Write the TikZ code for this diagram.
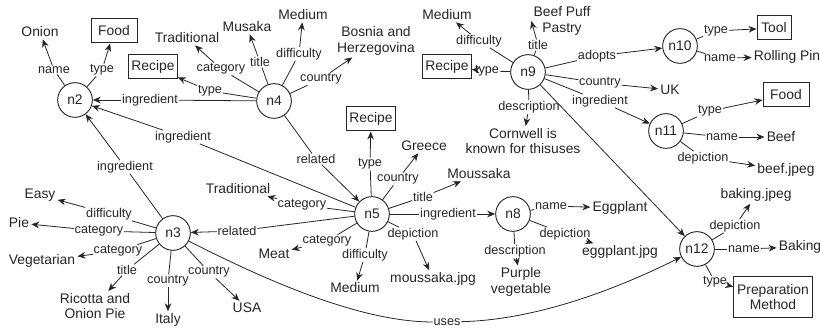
\documentclass[tikz,border=0pt]{standalone}
\usepackage{fontspec}
\setmainfont{Liberation Sans}
\usetikzlibrary{arrows.meta}
\definecolor{ink}{HTML}{262626}

\begin{document}
\begin{tikzpicture}[x=0.75pt,y=-0.75pt,ink,
  res/.style={circle,draw=ink,line width=0.7pt,minimum size=26pt,inner sep=0pt,font=\fontsize{10.4}{12}\selectfont},
  lit/.style={inner sep=1.5pt,align=center,font=\fontsize{10.4}{11.5}\selectfont},
  cls/.style={lit,draw=ink,line width=0.75pt,minimum height=18pt,inner xsep=2pt},
  lbl/.style={inner sep=0.5pt,font=\fontsize{9.5}{11}\selectfont},
  rel/.style={draw=ink,line width=0.6pt},
  arr/.style={rel,-{Stealth[length=6pt,width=5pt]}}]
\useasboundingbox (0,0) rectangle (820,331);

% resources
\node[res] (n2) at (75,100) {n2};
\node[res] (n3) at (173,233) {n3};
\node[res] (n4) at (274,101) {n4};
\node[res] (n5) at (372,214) {n5};
\node[res] (n8) at (513,214) {n8};
\node[res] (n9) at (528,72) {n9};
\node[res] (n10) at (680,46) {n10};
\node[res] (n11) at (666,131) {n11};
\node[res] (n12) at (697,249) {n12};

% literals and classes
\node[lit] (onion) at (40,32) {Onion};
\node[cls,minimum width=34.5pt] (food1) at (114,31) {Food};
\node[cls] (recipe1) at (153,67) {Recipe};
\node[lit] (trad1) at (187,38) {Traditional};
\node[lit] (musaka) at (247,27) {Musaka};
\node[lit] (medium1) at (303,15) {Medium};
\node[lit] (bosnia) at (376,41) {Bosnia and\\Herzegovina};
\node[lit] (medium2) at (447,15) {Medium};
\node[cls] (recipe2) at (447,67) {Recipe};
\node[lit] (beefpuff) at (562,21) {Beef Puff\\Pastry};
\node[lit] (cornwell) at (523,141) {Cornwell is\\known for thisuses};
\node[cls,minimum width=25.5pt] (tool) at (774,28) {Tool};
\node[lit] (rolling) at (787,57) {Rolling Pin};
\node[lit] (uk) at (670,90) {UK};
\node[cls,minimum width=34.5pt] (food2) at (786,95) {Food};
\node[lit] (beef) at (781,137) {Beef};
\node[lit] (beefjpeg) at (786,170) {beef.jpeg};
\node[cls] (recipe3) at (371,119) {Recipe};
\node[lit] (greece) at (424,146) {Greece};
\node[lit] (moussaka) at (479,174) {Moussaka};
\node[lit] (trad2) at (238,189) {Traditional};
\node[lit] (meat) at (274,254) {Meat};
\node[lit] (medium3) at (355,288) {Medium};
\node[lit] (moussakajpg) at (433,279) {moussaka.jpg};
\node[lit] (eggplant) at (620,208) {Eggplant};
\node[lit] (eggplantjpg) at (620,252) {eggplant.jpg};
\node[lit] (purple) at (521,282) {Purple\\vegetable};
\node[lit] (bakingjpeg) at (756,195) {baking.jpeg};
\node[lit] (baking) at (800,247) {Baking};
\node[cls,minimum width=59pt,minimum height=31pt] (prep) at (773,297) {Preparation\\Method};
\node[lit] (easy) at (40,195) {Easy};
\node[lit] (pie) at (19,223) {Pie};
\node[lit] (veg) at (42,261) {Vegetarian};
\node[lit] (ricotta) at (95,306) {Ricotta and\\Onion Pie};
\node[lit] (italy) at (168,320) {Italy};
\node[lit] (usa) at (247,308) {USA};

% property labels
\node[lbl] (l2name) at (54,70) {name};
\node[lbl] (l2type) at (102,70) {type};
\node[lbl] (l4type) at (210,91) {type};
\node[lbl] (l4ingr) at (150,100) {ingredient};
\node[lbl] (l4cat) at (221,69) {category};
\node[lbl] (l4title) at (260,62) {title};
\node[lbl] (l4diff) at (299,54) {difficulty};
\node[lbl] (l4country) at (321,79) {country};
\node[lbl] (l4rel) at (316,159) {related};
\node[lbl] (l5ingr1) at (183,137) {ingredient};
\node[lbl] (l3ingr) at (125,167) {ingredient};
\node[lbl] (l5type) at (370,164) {type};
\node[lbl] (l5country) at (398,179) {country};
\node[lbl] (l5title) at (423,197) {title};
\node[lbl] (l5ingr2) at (448,214) {ingredient};
\node[lbl] (l5cat1) at (302,205) {category};
\node[lbl] (l5rel) at (237,231) {related};
\node[lbl] (l5cat2) at (327,241) {category};
\node[lbl] (l5diff) at (365,255) {difficulty};
\node[lbl] (l5dep) at (413,234) {depiction};
\node[lbl] (l8name) at (551,206) {name};
\node[lbl] (l8dep) at (565,234) {depiction};
\node[lbl] (l8desc) at (515,251) {description};
\node[lbl] (l3diff) at (109,214) {difficulty};
\node[lbl] (l3cat1) at (99,231) {category};
\node[lbl] (l3cat2) at (118,251) {category};
\node[lbl] (l3title) at (127,270) {title};
\node[lbl] (l3country1) at (168,281) {country};
\node[lbl] (l3country2) at (209,272) {country};
\node[lbl] (l3uses) at (447,322) {uses};
\node[lbl] (l9diff) at (479,41) {difficulty};
\node[lbl] (l9type) at (487,71) {type};
\node[lbl] (l9title) at (538,45) {title};
\node[lbl] (l9desc) at (529,107) {description};
\node[lbl] (l9adopts) at (597,56) {adopts};
\node[lbl] (l9country) at (600,83) {country};
\node[lbl] (l9ingr) at (600,101) {ingredient};
\node[lbl] (l10type) at (716,31) {type};
\node[lbl] (l10name) at (720,58) {name};
\node[lbl] (l11type) at (710,111) {type};
\node[lbl] (l11name) at (722,137) {name};
\node[lbl] (l11dep) at (703,158) {depiction};
\node[lbl] (l12dep) at (735,226) {depiction};
\node[lbl] (l12name) at (744,249) {name};
\node[lbl] (l12type) at (715,282) {type};

% n2
\draw[rel] (n2) -- (l2name) edge[arr] (onion);
\draw[rel] (n2) -- (l2type) edge[arr] (food1);
% n4
\draw[rel] (n4) -- (l4type) edge[arr] (recipe1);
\draw[rel] (n4) -- (l4ingr) edge[arr] (n2);
\draw[rel] (n4) -- (l4cat) edge[arr] (trad1);
\draw[rel] (n4) -- (l4title) edge[arr] (musaka);
\draw[rel] (n4) -- (l4diff) edge[arr] (medium1);
\draw[rel] (n4) -- (l4country) edge[arr] (bosnia);
\draw[rel] (n4) -- (l4rel) edge[arr] (n5);
% n5
\draw[rel] (n5) -- (l5ingr1) edge[arr] (n2);
\draw[rel] (n5) -- (l5type) edge[arr] (recipe3);
\draw[rel] (n5) -- (l5country) edge[arr] (greece);
\draw[rel] (n5) -- (l5title) edge[arr] (moussaka);
\draw[rel] (n5) -- (l5ingr2) edge[arr] (n8);
\draw[rel] (n5) -- (l5cat1) edge[arr] (trad2);
\draw[rel] (n5) -- (l5rel) edge[arr] (n3);
\draw[rel] (n5) -- (l5cat2) edge[arr] (meat);
\draw[rel] (n5) -- (l5diff) edge[arr] (medium3);
\draw[rel] (n5) -- (l5dep) edge[arr] (moussakajpg);
% n8
\draw[rel] (n8) -- (l8name) edge[arr] (eggplant);
\draw[rel] (n8) -- (l8dep) edge[arr] (eggplantjpg);
\draw[rel] (n8) -- (l8desc) edge[arr] (purple);
% n3
\draw[rel] (n3) -- (l3ingr) edge[arr] (n2);
\draw[rel] (n3) -- (l3diff) edge[arr] (easy);
\draw[rel] (n3) -- (l3cat1) edge[arr] (pie);
\draw[rel] (n3) -- (l3cat2) edge[arr] (veg);
\draw[rel] (n3) -- (l3title) edge[arr] (ricotta);
\draw[rel] (n3) -- (l3country1) edge[arr] (italy);
\draw[rel] (n3) -- (l3country2) edge[arr] (usa);
\draw[rel] (n3) .. controls (265,280) and (360,322) .. (l3uses);
\draw[arr] (l3uses) .. controls (535,320) and (615,290) .. (n12);
% n9
\draw[rel] (n9) -- (l9diff) edge[arr] (medium2);
\draw[rel] (n9) -- (l9type) edge[arr] (recipe2);
\draw[rel] (n9) -- (l9title) edge[arr] (beefpuff.west);
\draw[rel] (n9) -- (l9desc) edge[arr] (cornwell);
\draw[rel] (n9) -- (l9adopts) edge[arr] (n10);
\draw[rel] (n9) -- (l9country) edge[arr] (uk);
\draw[rel] (n9) -- (l9ingr) edge[arr] (n11);
\draw[arr] (n9) -- (n12);
% n10, n11, n12
\draw[rel] (n10) -- (l10type) edge[arr] (tool);
\draw[rel] (n10) -- (l10name) edge[arr] (rolling);
\draw[rel] (n11) -- (l11type) edge[arr] (food2);
\draw[rel] (n11) -- (l11name) edge[arr] (beef);
\draw[rel] (n11) -- (l11dep) edge[arr] (beefjpeg);
\draw[rel] (n12) -- (l12dep) edge[arr] (bakingjpeg);
\draw[rel] (n12) -- (l12name) edge[arr] (baking);
\draw[rel] (n12) -- (l12type) edge[arr] (prep);
\end{tikzpicture}
\end{document}
